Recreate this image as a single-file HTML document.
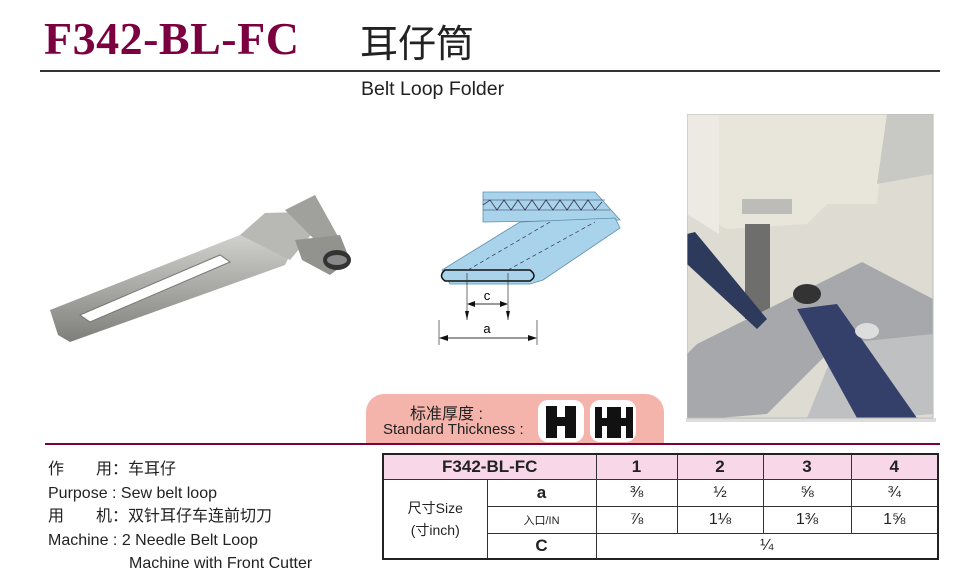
<!DOCTYPE html>
<html><head><meta charset="utf-8"><style>
body{margin:0;width:980px;height:575px;background:#fff;position:relative;overflow:hidden;font-family:"Liberation Sans","Noto Sans CJK SC",sans-serif;color:#222}
.a{position:absolute;white-space:nowrap}
table{border-collapse:collapse;position:absolute;left:382px;top:453px;width:557px;border:2.5px solid #222;table-layout:fixed}
td{border:1px solid #333;text-align:center;padding:0;font-size:16px}
.hb{position:absolute;top:400px;width:46px;height:42px;background:#fff;border-radius:10px;overflow:hidden}
</style></head><body>
<div class="a" style="left:44px;top:12px;font-family:'Liberation Serif',serif;font-weight:bold;font-size:46px;color:#7b0040;letter-spacing:0.5px">F342-BL-FC</div>
<div class="a" style="left:360px;top:16px;font-family:'Noto Sans CJK SC',sans-serif;font-size:38px;color:#222;line-height:50px">耳仔筒</div>
<div class="a" style="left:40px;top:70px;width:900px;height:2px;background:#333"></div>
<div class="a" style="left:361px;top:78px;font-size:19.5px">Belt Loop Folder</div>

<svg class="a" style="left:40px;top:180px" width="330" height="180" viewBox="0 0 330 180">
<defs><linearGradient id="m" x1="0" y1="0" x2="0" y2="1"><stop offset="0" stop-color="#d0d0cc"/><stop offset="0.5" stop-color="#a8a8a4"/><stop offset="1" stop-color="#7e7e7a"/></linearGradient></defs>
<polygon points="10,130 200,55 250,75 245,85 30,162 18,155" fill="url(#m)"/>
<polygon points="200,55 225,33 260,32 275,50 250,80" fill="#b8b8b4"/>
<polygon points="245,30 275,15 300,60 285,70" fill="#a0a09c"/>
<polygon points="255,60 300,55 310,80 290,95 262,80" fill="#92928e"/>
<ellipse cx="297" cy="80" rx="14" ry="10" fill="#333"/><ellipse cx="297" cy="80" rx="10" ry="5" fill="#888"/>
<polygon points="40,135 180,75 190,82 50,142" fill="#fff" stroke="#777"/>
</svg>

<svg class="a" style="left:420px;top:180px" width="220" height="170" viewBox="0 0 220 170">
<polygon points="63,12 175,12 200,40 190,40 63,42" fill="#a9d3ea" stroke="#5b8fb0" stroke-width="0.8"/>
<polyline points="63,25 70,20 77,30 84,20 91,30 98,20 105,30 112,20 119,30 126,20 133,30 140,20 147,30 154,20 161,30 168,20 175,30 182,22" fill="none" stroke="#335" stroke-width="0.8"/>
<line x1="63" y1="20" x2="185" y2="20" stroke="#335" stroke-width="0.6"/><line x1="63" y1="30" x2="190" y2="30" stroke="#335" stroke-width="0.6"/>
<polygon points="100,42 195,38 200,48 123,100 110,104 30,104 22,90" fill="#a9d3ea" stroke="#5b8fb0" stroke-width="0.8"/>
<path d="M25,90 L110,90 Q118,96 110,101 L25,101 Q18,96 25,90Z" fill="#a9d3ea" stroke="#111" stroke-width="1.5"/>
<line x1="48" y1="90" x2="130" y2="42" stroke="#335" stroke-dasharray="4,3" stroke-width="0.7"/>
<line x1="88" y1="90" x2="175" y2="42" stroke="#335" stroke-dasharray="4,3" stroke-width="0.7"/>
<line x1="47" y1="93" x2="47" y2="140" stroke="#333" stroke-width="0.7"/><line x1="88" y1="93" x2="88" y2="140" stroke="#333" stroke-width="0.7"/>
<line x1="50" y1="124" x2="85" y2="124" stroke="#333"/><polygon points="47,124 55,121 55,127" fill="#111"/><polygon points="88,124 80,121 80,127" fill="#111"/>
<text x="67" y="120" font-size="13" text-anchor="middle" font-family="Liberation Sans">c</text>
<polygon points="47,140 45,131 49,131" fill="#111"/><polygon points="88,140 86,131 90,131" fill="#111"/>
<line x1="19" y1="140" x2="19" y2="165" stroke="#333" stroke-width="0.7"/><line x1="117" y1="140" x2="117" y2="165" stroke="#333" stroke-width="0.7"/>
<line x1="20" y1="158" x2="116" y2="158" stroke="#333"/><polygon points="19,158 28,155 28,161" fill="#111"/><polygon points="117,158 108,155 108,161" fill="#111"/>
<text x="67" y="153" font-size="13" text-anchor="middle" font-family="Liberation Sans">a</text>
</svg>

<svg class="a" style="left:687px;top:114px" width="250" height="310" viewBox="0 0 250 310">
<rect x="0" y="0" width="246" height="304" fill="#dedcd2"/>
<polygon points="30,0 200,0 190,90 140,90 120,110 40,115 30,110" fill="#e8e6da"/>
<polygon points="0,0 32,0 32,120 0,100" fill="#eceae2"/>
<polygon points="200,0 246,0 246,60 190,70" fill="#c8c8c4"/>
<rect x="55" y="85" width="50" height="15" fill="#bcbcb8"/>
<rect x="58" y="110" width="25" height="95" fill="#6e6e6c"/>
<polygon points="10,230 175,148 246,185 246,240 180,250 150,230 80,300 30,304 0,304 0,240" fill="#a6a8ac"/>
<polygon points="150,230 246,220 246,300 200,304 120,304" fill="#bfc0c2"/>
<ellipse cx="120" cy="180" rx="14" ry="10" fill="#333"/>
<polygon points="0,120 8,118 80,205 70,215 0,150" fill="#2e3a5c"/>
<polygon points="110,195 150,190 230,304 170,304" fill="#34406a"/>
<ellipse cx="180" cy="217" rx="12" ry="8" fill="#ddd"/>
<rect x="0" y="0" width="246" height="304" fill="none" stroke="#bbb"/>
</svg>
<div class="a" style="left:686px;top:418px;width:250px;height:4px;background:#bbb;opacity:.5"></div>

<div class="a" style="left:366px;top:394px;width:298px;height:50px;background:#f4b4ab;border-radius:18px 18px 0 0"></div>
<div class="a" style="left:410px;top:400px;font-size:16px">标准厚度 :</div>
<div class="a" style="left:383px;top:421px;font-size:15px">Standard Thickness :</div>
<div class="hb" style="left:538px"><svg width="46" height="42"><path d="M8,6h11v11h8v-11h11v32h-11v-12h-8v12h-11z" fill="#111"/></svg></div>
<div class="hb" style="left:590px"><svg width="46" height="42"><path d="M5,7h7v11h5v-11h7v31h-7v-12h-5v12h-7z M24,7h7v11h5v-11h7v31h-7v-12h-5v12h-7z" fill="#111"/></svg></div>
<div class="a" style="left:45px;top:443px;width:895px;height:2px;background:#7b0040"></div>

<div class="a" style="left:48px;top:458px;font-size:16px;line-height:23.5px">作　　用：车耳仔<br>Purpose : Sew belt loop<br>用　　机：双针耳仔车连前切刀<br>Machine : 2 Needle Belt Loop<br><span style="padding-left:81px">Machine with Front Cutter</span></div>

<table>
<colgroup><col style="width:104px"><col style="width:109px"><col style="width:81px"><col style="width:86px"><col style="width:88px"><col></colgroup>
<tr style="height:25px;background:#f8d8e8;font-weight:bold"><td colspan="2" style="font-size:17px">F342-BL-FC</td><td style="font-size:17px">1</td><td style="font-size:17px">2</td><td style="font-size:17px">3</td><td style="font-size:17px">4</td></tr>
<tr style="height:27px"><td rowspan="3" style="font-size:14px;line-height:22px">尺寸Size<br>(寸inch)</td><td style="font-weight:bold;font-size:17px">a</td><td>⅜</td><td>½</td><td>⅝</td><td>¾</td></tr>
<tr style="height:27px"><td style="font-size:11px">入口/IN</td><td>⅞</td><td>1⅛</td><td>1⅜</td><td>1⅝</td></tr>
<tr style="height:26px"><td style="font-weight:bold;font-size:17px">C</td><td colspan="4">¼</td></tr>
</table>
</body></html>
